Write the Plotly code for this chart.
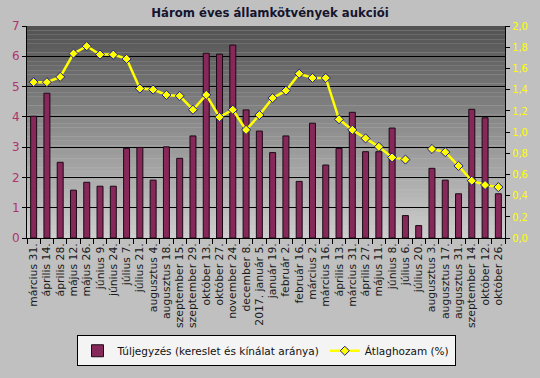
import plotly.graph_objects as go

categories = ["március 31.", "április 14.", "április 28.", "május 12.", "május 26.", "június 9.",
              "június 24.", "július 7.", "július 21.", "augusztus 4.", "augusztus 18.",
              "szeptember 15.", "szeptember 29.", "október 13.", "október 27.", "november 24.",
              "december 8.", "2017. január 5.", "január 19.", "február 2.", "február 16.",
              "március 2.", "március 16.", "április 13.", "március 31.", "április 27.",
              "május 11.", "június 8.", "július 6.", "július 20.", "augusztus 3.",
              "augusztus 17.", "augusztus 31.", "szeptember 14.", "október 12.", "október 26."]

tuljegyzes = [4.02, 4.78, 2.50, 1.58, 1.84, 1.71, 1.71, 2.96, 2.99, 1.91, 3.01, 2.63, 3.37,
              6.10, 6.07, 6.37, 4.23, 3.53, 2.82, 3.37, 1.87, 3.79, 2.41, 2.96, 4.15, 2.85,
              2.85, 3.63, 0.74, 0.41, 2.30, 1.91, 1.46, 4.25, 3.97, 1.46]

atlaghozam = [1.47, 1.47, 1.52, 1.74, 1.81, 1.73, 1.73, 1.69, 1.41, 1.40, 1.35, 1.34, 1.21,
              1.35, 1.14, 1.21, 1.02, 1.16, 1.32, 1.39, 1.55, 1.51, 1.51, 1.12, 1.02, 0.94,
              0.86, 0.76, 0.74, None, 0.84, 0.81, 0.68, 0.54, 0.50, 0.48]

left_ticks = [0, 1, 2, 3, 4, 5, 6, 7]
right_ticks = [0.0, 0.2, 0.4, 0.6, 0.8, 1.0, 1.2, 1.4, 1.6, 1.8, 2.0]
right_labels = ["0,0", "0,2", "0,4", "0,6", "0,8", "1,0", "1,2", "1,4", "1,6", "1,8", "2,0"]

idx = list(range(len(categories)))

fig = go.Figure()
fig.add_trace(go.Bar(
    x=idx, y=tuljegyzes, name="Túljegyzés (kereslet és kínálat aránya)",
    marker=dict(color="#86285a", line=dict(color="#1a0a12", width=1)),
    width=0.45, yaxis="y"))
fig.add_trace(go.Scatter(
    x=idx, y=atlaghozam, name="Átlaghozam (%)", mode="lines+markers",
    line=dict(color="#ffff00", width=2.5),
    marker=dict(symbol="diamond", size=7, color="#ffff00", line=dict(color="#1c1c8c", width=1)),
    connectgaps=False, yaxis="y2"))

# gradient plot background
n = 48
top = (82, 82, 82)
bot = (205, 205, 205)
shapes = []
for i in range(n):
    t = i / (n - 1)
    c = tuple(int(round(top[k] + (bot[k] - top[k]) * t)) for k in range(3))
    shapes.append(dict(type="rect", xref="paper", yref="paper", x0=0, x1=1,
                       y0=1 - (i + 1) / n, y1=1 - i / n, layer="below",
                       fillcolor="rgb(%d,%d,%d)" % c, line=dict(width=0)))

fig.update_layout(
    width=540, height=378,
    paper_bgcolor="#c0c0c0", plot_bgcolor="#c0c0c0",
    margin=dict(l=25, r=33, t=26, b=137),
    font=dict(family="DejaVu Sans", size=10, color="#1a1a1a"),
    title=dict(text="<b>Három éves államkötvények aukciói</b>", x=0.5, xanchor="center",
               y=0.968, yanchor="middle",
               font=dict(family="DejaVu Sans Condensed, DejaVu Sans", size=13, color="#15152e")),
    shapes=shapes,
    xaxis=dict(range=[-0.5, 35.5], tickmode="array", tickvals=idx, ticktext=categories,
               tickangle=-90, ticks="", showgrid=False, zeroline=False,
               showline=True, linecolor="#000000", linewidth=1,
               tickfont=dict(family="DejaVu Sans", size=10.8, color="#1a1a1a"),
               minor=dict(tickmode="linear", tick0=0.5, dtick=1, ticks="outside",
                          ticklen=5, tickcolor="#000000", showgrid=False)),
    yaxis=dict(range=[0, 7], tickmode="array", tickvals=left_ticks, showgrid=True,
               gridcolor="#000000", gridwidth=1, zeroline=False, showline=True,
               linecolor="#000000", ticks="outside", ticklen=4, tickcolor="#000000",
               tickfont=dict(family="DejaVu Sans", size=12, color="#b0346c")),
    yaxis2=dict(range=[0, 2.0], overlaying="y", side="right", tickmode="array",
                tickvals=right_ticks, ticktext=right_labels, showgrid=False, zeroline=False,
                showline=True, linecolor="#000000", ticks="outside", ticklen=4,
                tickcolor="#000000",
                tickfont=dict(family="DejaVu Sans Condensed, DejaVu Sans", size=11, color="#ffff00")),
    legend=dict(orientation="h", x=0.5, xanchor="center", y=-0.605, yanchor="bottom",
                bgcolor="#f4f4f4", bordercolor="#000000", borderwidth=1,
                font=dict(size=10.5, color="#111111"), tracegroupgap=0),
)

fig.write_html("out.html", config={"displayModeBar": False},
               post_script="document.body.style.margin='0';document.body.style.background='#c0c0c0';")
